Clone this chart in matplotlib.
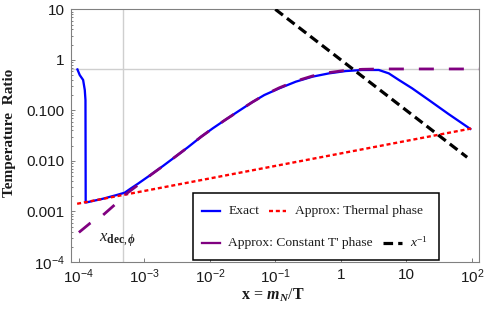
"""
Temperature ratio vs x = m_N/T : exact solution against the two approximations.
"""

import matplotlib
matplotlib.use("Agg")
import matplotlib.pyplot as plt
from matplotlib.lines import Line2D
from matplotlib.patches import Rectangle
from matplotlib.ticker import FixedLocator, FixedFormatter, LogLocator, NullLocator, NullFormatter

plt.rcParams["font.family"] = ["Liberation Sans", "DejaVu Sans"]
plt.rcParams["mathtext.fontset"] = "custom"
plt.rcParams["mathtext.rm"] = "Liberation Serif"
plt.rcParams["mathtext.it"] = "Liberation Serif:italic"
plt.rcParams["mathtext.bf"] = "Liberation Serif:bold"
plt.rcParams["mathtext.bfit"] = "Liberation Serif:bold:italic"
plt.rcParams["mathtext.sf"] = "Liberation Sans"

c_blue = "#0000ff"
c_red = "#ff0000"
c_purple = "#800080"
c_grid = "#cfcfcf"
c_frame = "#808080"

# ------------------------------------------------------------------ #
#                      Values                   #
# ------------------------------------------------------------------ #
exact_x = [9.5e-5, 1.03e-4, 1.16e-4, 1.23e-4, 1.26e-4, 1.27e-4, 2.3e-4, 3.7e-4,
           5.0e-4, 6.2e-4, 8.0e-4, 1.28e-3, 1.92e-3, 3.07e-3, 4.61e-3, 7.36e-3,
           0.0111, 0.0177, 0.0266, 0.0441, 0.0678, 0.115, 0.206, 0.37, 0.66,
           1.19, 2.12, 3.8, 5.4, 7.7, 12.3, 22, 44, 95]
exact_y = [0.645, 0.50, 0.40, 0.253, 0.16, 1.5e-3, 1.78e-3, 2.1e-3,
           2.35e-3, 2.85e-3, 3.55e-3, 5.43e-3, 7.93e-3, 0.0125, 0.0186, 0.0301,
           0.0442, 0.0665, 0.0942, 0.1445, 0.201, 0.273, 0.37, 0.465, 0.54,
           0.60, 0.63, 0.63, 0.54, 0.40, 0.273, 0.161, 0.085, 0.043]

thermal_x = [9.4e-5, 100]
thermal_y = [1.42e-3, 0.044]

const_x = [1.0e-4, 1.47e-4, 2.34e-4, 3.74e-4, 5.0e-4, 8.0e-4, 1.28e-3, 1.92e-3,
           3.07e-3, 4.61e-3, 7.36e-3, 0.0111, 0.0177, 0.0266, 0.0441, 0.0678,
           0.115, 0.206, 0.37, 0.66, 1.19, 2.12, 4.0, 10, 130]
const_y = [3.85e-4, 5.8e-4, 8.5e-4, 1.45e-3, 2.12e-3, 3.34e-3, 5.4e-3, 7.9e-3,
           0.0125, 0.0186, 0.0301, 0.0442, 0.0665, 0.094, 0.1445, 0.201,
           0.28, 0.38, 0.48, 0.56, 0.62, 0.65, 0.66, 0.66, 0.66]

inv_x = [0.1, 85]
inv_y = [10, 0.0118]

plateau_y = 0.66
x_dec = 4.7e-4

x_ticks = [1e-4, 1e-3, 1e-2, 1e-1, 1, 10, 100]
x_labels = [r"$\mathsf{10^{-4}}$", r"$\mathsf{10^{-3}}$", r"$\mathsf{10^{-2}}$",
            r"$\mathsf{10^{-1}}$", "1", "10", r"$\mathsf{10^{2}}$"]
y_ticks = [1e-4, 1e-3, 1e-2, 1e-1, 1, 10]
y_labels = [r"$\mathsf{10^{-4}}$", "0.001", "0.010", "0.100", "1", "10"]

# ------------------------------------------------------------------ #
#                               Plot                                 #
# ------------------------------------------------------------------ #
fig, ax = plt.subplots(figsize=(4.86, 3.13), dpi=100)
fig.subplots_adjust(left=0.1455, right=0.9856, top=0.9703, bottom=0.1629)

ax.set_xscale("log")
ax.set_yscale("log")
ax.set_xlim(7.5e-5, 129)
ax.set_ylim(1e-4, 10)

ax.axhline(plateau_y, color=c_grid, lw=1.0, zorder=1)
ax.axvline(x_dec, color=c_grid, lw=1.0, zorder=1)

ax.plot(exact_x, exact_y, color=c_blue, lw=1.65, zorder=3)
ax.plot(thermal_x, thermal_y, color=c_red, lw=1.7, dashes=(1.7, 1.2), zorder=4)
ax.plot(const_x, const_y, color=c_purple, lw=2.0, dashes=(5.4, 5.4), zorder=5)
ax.plot(inv_x, inv_y, color="black", lw=2.3, dashes=(3.0, 1.6), zorder=6)

ax.text(3.86e-4, 2.7e-4, r"$x_{\mathbf{dec},\mathbfit{\phi}}$", fontsize=12,
        ha="center", va="center", color="#222222")

ax.xaxis.set_major_locator(FixedLocator(x_ticks))
ax.xaxis.set_major_formatter(FixedFormatter(x_labels))
ax.xaxis.set_minor_locator(NullLocator())
ax.yaxis.set_major_locator(FixedLocator(y_ticks))
ax.yaxis.set_major_formatter(FixedFormatter(y_labels))
ax.yaxis.set_minor_locator(LogLocator(base=10, subs=range(2, 10), numticks=20))
ax.yaxis.set_minor_formatter(NullFormatter())

ax.tick_params(which="both", direction="in", color=c_frame, width=0.7,
               labelsize=11, labelcolor="#1a1a1a", top=False, right=False)
ax.tick_params(which="major", length=3.1)
ax.tick_params(which="minor", length=1.6)
ax.tick_params(axis="x", pad=4)
ax.tick_params(axis="y", pad=4.5)
for s in ax.spines.values():
    s.set_color(c_frame)
    s.set_linewidth(0.8)

fig.text(9.5 / 486, 1 - 133 / 313, "Temperature  Ratio", rotation=90,
         ha="center", va="center", fontsize=11, fontweight="bold",
         family="Liberation Serif", color="#1a1a1a")
fig.text(272.5 / 486, 1 - 299.5 / 313, r"$\mathbf{x}\,=\,\mathbfit{m_N}/\mathbf{T}$",
         ha="center", va="baseline", fontsize=11.5, color="#1a1a1a")

# ------------------------------------------------------------------ #
#          Legend (flow layout, so drawn by hand in axes units)      #
# ------------------------------------------------------------------ #
ax.add_patch(Rectangle((0.2988, 0.0079), 0.604, 0.2663, transform=ax.transAxes,
                       facecolor="white", edgecolor="black", lw=1.1, zorder=10))
entries = [
    (0.3208, 0.3656, 0.386, 0.2018, dict(color=c_blue, lw=1.65), "Exact"),
    (0.4857, 0.5273, 0.5494, 0.2018, dict(color=c_red, lw=1.7, dashes=(1.7, 1.2)), "Approx: Thermal phase"),
    (0.3208, 0.3656, 0.386, 0.0764, dict(color=c_purple, lw=1.65), "Approx: Constant T' phase"),
    (0.7649, 0.8107, 0.8310, 0.0764, dict(color="black", lw=2.3, dashes=(3.0, 1.6)), r"$x^{-1}$"),
]
for x0, x1, xt, yy, style, label in entries:
    ax.add_line(Line2D([x0, x1], [yy, yy], transform=ax.transAxes, zorder=11, **style))
    ax.text(xt, yy, label, transform=ax.transAxes, ha="left", va="center",
            fontsize=9.7, family="Liberation Serif", color="#1a1a1a", zorder=11)

plt.savefig("out.png", dpi=100)
